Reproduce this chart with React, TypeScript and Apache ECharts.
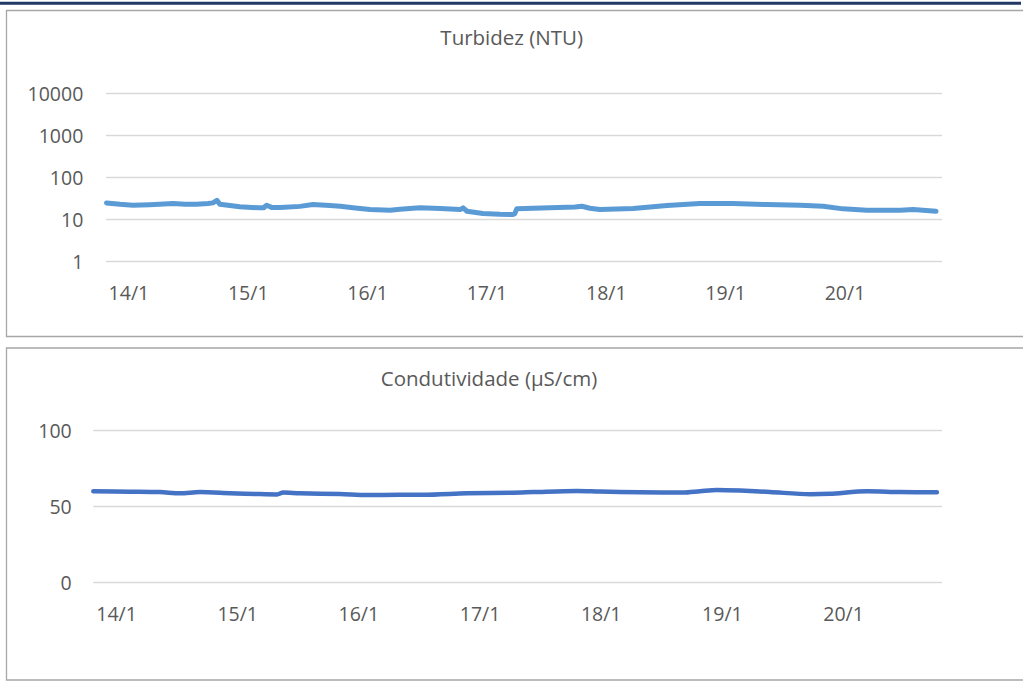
import React, { useEffect, useRef } from "react";
import * as echarts from "echarts";

// x positions are hours after 14/1 00:00
const dayLabels = ["14/1", "15/1", "16/1", "17/1", "18/1", "19/1", "20/1"];
const dayTicks = [0, 24, 48, 72, 96, 120, 144];

const turbHours = [-4.5, -1.8, 0.8, 4.2, 8.9, 11.3, 13.6, 15.9, 16.9, 17.7, 18.3, 22.3, 26.3, 27.1, 27.7, 28.8, 30.4, 34.4, 37.0, 40.4, 42.5, 45.5, 48.5, 52.5, 54.5, 58.5, 62.6, 66.6, 67.2, 68.0, 71.2, 74.6, 77.2, 77.6, 78.0, 84.7, 89.7, 91.1, 92.7, 94.7, 101.4, 108.2, 114.8, 121.5, 128.3, 135.0, 139.6, 143.6, 148.4, 155.1, 157.7, 162.3];
const turbValues = [24.8, 23.0, 21.8, 22.5, 23.9, 23.0, 23.0, 24.0, 24.8, 28.6, 23.0, 20.0, 18.9, 19.0, 21.8, 19.2, 19.2, 20.5, 22.6, 21.5, 20.6, 18.8, 17.2, 16.6, 17.5, 18.9, 18.3, 17.2, 18.9, 15.7, 13.9, 13.3, 13.1, 13.8, 18.0, 18.9, 19.8, 20.6, 18.5, 17.2, 18.3, 21.4, 24.0, 23.9, 22.6, 21.8, 20.6, 17.9, 16.6, 16.6, 17.2, 15.7];

const condHours = [-4.6, 2.7, 8.6, 12.6, 16.5, 22.5, 28.4, 31.8, 33.0, 36.3, 44.3, 49.6, 56.1, 60.7, 69.4, 78.5, 82.5, 91.2, 95.7, 103.7, 112.2, 115.6, 118.9, 123.5, 129.4, 137.4, 141.3, 148.7, 155.2, 162.5];
const condValues = [60.2, 59.9, 59.6, 58.8, 59.6, 58.9, 58.3, 58.1, 59.3, 58.8, 58.3, 57.7, 57.8, 57.8, 58.8, 59.2, 59.6, 60.4, 60.0, 59.5, 59.3, 60.2, 61.0, 60.6, 59.7, 58.2, 58.5, 60.1, 59.6, 59.5];

const turbTicks = [1, 10, 100, 1000, 10000];
const condTicks = [0, 50, 100];

const FONT = "'Open Sans', sans-serif";
const TEXT = "#595959";
const GRID = "#d9d9d9";

export default function App() {
  const ref = useRef<HTMLDivElement>(null);
  useEffect(() => {
    if (!ref.current) return;
    const chart = echarts.init(ref.current, undefined, { renderer: "svg" });
    const xAxisBase = (gridIndex: number) => ({
      type: "value",
      gridIndex,
      min: -4.6,
      max: 163.5,
      axisLine: { show: false },
      axisTick: { show: false },
      splitLine: { show: false },
      axisLabel: {
        customValues: dayTicks,
        formatter: (v: number) => dayLabels[dayTicks.indexOf(Math.round(v))] ?? "",
        color: TEXT,
        fontFamily: FONT,
        fontSize: 19.5,
        margin: 20.5,
      },
    });
    chart.setOption({
      animation: false,
      backgroundColor: "#ffffff",
      textStyle: { fontFamily: FONT },
      grid: [
        { left: 106, right: 81, top: 93, bottom: 429.3 },
        { left: 93.3, right: 81, top: 430.7, bottom: 108.3 },
      ],
      xAxis: [xAxisBase(0), xAxisBase(1)],
      yAxis: [
        {
          type: "log",
          logBase: 10,
          gridIndex: 0,
          min: turbTicks[0],
          max: turbTicks[turbTicks.length - 1],
          axisLine: { show: false },
          axisTick: { show: false },
          splitLine: { show: true, lineStyle: { color: GRID, width: 1.3 } },
          axisLabel: {
            formatter: (v: number) => String(Math.round(v)),
            color: TEXT,
            fontFamily: FONT,
            fontSize: 19.5,
            margin: 22.7,
          },
        },
        {
          type: "value",
          gridIndex: 1,
          min: condTicks[0],
          max: condTicks[condTicks.length - 1],
          interval: 50,
          axisLine: { show: false },
          axisTick: { show: false },
          splitLine: { show: true, lineStyle: { color: GRID, width: 1.3 } },
          axisLabel: {
            color: TEXT,
            fontFamily: FONT,
            fontSize: 19.5,
            margin: 21.6,
          },
        },
      ],
      series: [
        {
          type: "line",
          xAxisIndex: 0,
          yAxisIndex: 0,
          data: turbHours.map((h, i) => [h, turbValues[i]]),
          showSymbol: false,
          lineStyle: { color: "#5b9bd5", width: 5, cap: "round", join: "round" },
        },
        {
          type: "line",
          xAxisIndex: 1,
          yAxisIndex: 1,
          data: condHours.map((h, i) => [h, condValues[i]]),
          showSymbol: false,
          smooth: 0.3,
          lineStyle: { color: "#4472c4", width: 4.5, cap: "round", join: "round" },
        },
      ],
      graphic: [
        {
          type: "line",
          shape: { x1: 0, y1: 3.3, x2: 1021, y2: 3.3 },
          style: { stroke: "#1f3864", lineWidth: 3 },
          z: 10,
        },
        {
          type: "rect",
          shape: { x: 6.5, y: 10.5, width: 1030, height: 326 },
          style: { fill: "none", stroke: "#a6a6a6", lineWidth: 1.3 },
          z: -1,
        },
        {
          type: "rect",
          shape: { x: 6.5, y: 348, width: 1030, height: 332 },
          style: { fill: "none", stroke: "#a6a6a6", lineWidth: 1.3 },
          z: -1,
        },
        {
          type: "text",
          x: 511.7,
          y: 37,
          style: {
            text: "Turbidez (NTU)",
            fill: TEXT,
            font: `20.5px ${FONT}`,
            align: "center",
            verticalAlign: "middle",
          },
        },
        {
          type: "text",
          x: 489,
          y: 378,
          style: {
            text: "Condutividade (µS/cm)",
            fill: TEXT,
            font: `20.5px ${FONT}`,
            align: "center",
            verticalAlign: "middle",
          },
        },
      ],
    });
    return () => chart.dispose();
  }, []);
  return (
    <div
      ref={ref}
      style={{ position: "absolute", left: 0, top: 0, width: 1023, height: 691 }}
    />
  );
}
